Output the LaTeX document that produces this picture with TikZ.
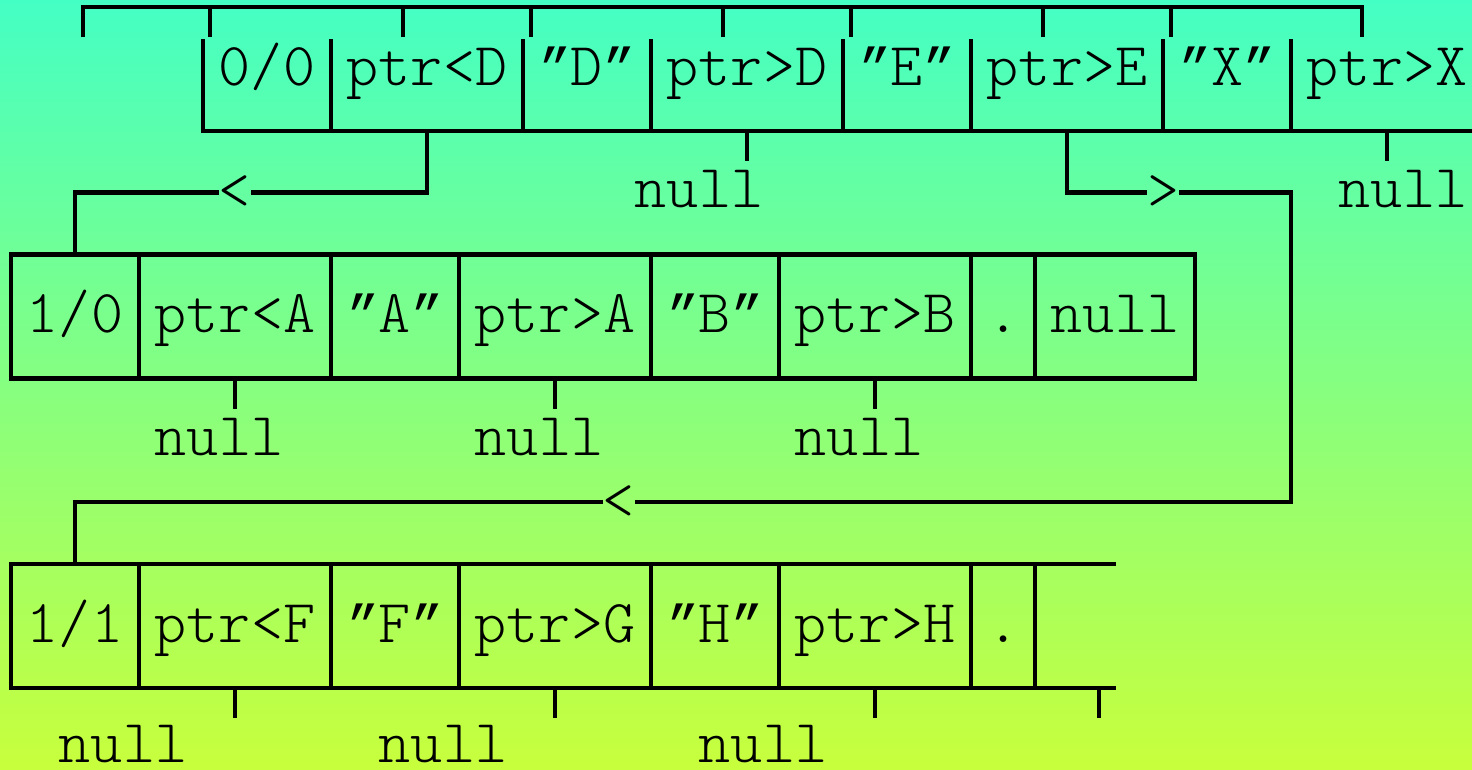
\documentclass[tikz,border=0pt]{standalone}
\usepackage{fontspec}
\usetikzlibrary{calc}
\newfontfamily\monofnt{Latin Modern Mono Light}
\newfontfamily\qfnt{Liberation Mono}
\newcommand{\myquote}{{\qfnt\fontsize{53.3}{60}\selectfont ”}}
\definecolor{bgtop}{RGB}{68,255,196}
\definecolor{bgbot}{RGB}{200,255,60}
\begin{document}
\begin{tikzpicture}[x=1pt,y=-1pt,
  wire/.style={line width=4.5pt,line join=miter},
  lbl/.style={font=\monofnt\fontsize{61}{66}\selectfont,inner sep=0pt,anchor=base},
  glyph/.style={font=\monofnt\fontsize{61}{66}\selectfont,inner sep=0pt,anchor=center}]
\shade[top color=bgtop,bottom color=bgbot] (0,0) rectangle (1472,769);
\useasboundingbox (0,0) rectangle (1472,769);

% ---------- row 1 ----------
\draw[wire] (83,37) -- (83,7) -- (1362,7) -- (1362,37);
\foreach \x in {210,403,531,723,851,1043,1171} \draw[wire] (\x,7) -- (\x,37);
\draw[wire] (203,39) -- (203,130.8) -- (1480,130.8);
\foreach \x in {331,523,651,843,971,1163,1291} \draw[wire] (\x,39) -- (\x,130.8);
\node[lbl] (r1a) at (267,85) {0/0};
\node[lbl] (r1b) at (427,85) {ptr<D};
\node[lbl] (r1c) at (587,85) {\myquote D\myquote};
\node[lbl] (r1d) at (747,85) {ptr>D};
\node[lbl] (r1e) at (907,85) {\myquote E\myquote};
\node[lbl] (r1f) at (1067,85) {ptr>E};
\node[lbl] (r1g) at (1227,85) {\myquote X\myquote};
\node[lbl] (r1h) at (1387,85) {ptr>X};
\coordinate (pD) at (427,130.8);
\coordinate (pDn) at (747,130.8);
\coordinate (pE) at (1067,130.8);
\coordinate (pXn) at (1387,130.8);
\draw[wire] (pDn) -- ++(0,30.5);
\draw[wire] (pXn) -- ++(0,30.5);
\node[lbl] (n1a) at (699,207) {null};
\node[lbl] (n1b) at (1403,207) {null};

% left branch
\node[glyph] (lt1) at (235,192.7) {<};
\coordinate (c1) at (427,192.7);
\coordinate (c2) at (75,192.7);
\coordinate (r2top) at (75,254.6);
\draw[wire] (pD) -- (c1) -- ($(lt1.center)+(16,0)$);
\draw[wire] ($(lt1.center)-(16,0)$) -- (c2) -- (r2top);

% right branch
\node[glyph] (gt1) at (1163,192.7) {>};
\node[glyph] (lt2) at (619,502.2) {<};
\coordinate (c3) at (1067,192.7);
\coordinate (c4) at (1291,192.7);
\coordinate (c5) at (1291,502.2);
\coordinate (c6) at (75,502.2);
\coordinate (r3top) at (75,564.1);
\draw[wire] (pE) -- (c3) -- ($(gt1.center)-(16,0)$);
\draw[wire] ($(gt1.center)+(16,0)$) -- (c4) -- (c5) -- ($(lt2.center)+(16,0)$);
\draw[wire] ($(lt2.center)-(16,0)$) -- (c6) -- (r3top);

% ---------- row 2 ----------
\draw[wire] (11,254.6) rectangle (1195,378.4);
\foreach \x in {139,331,459,651,779,971,1035} \draw[wire] (\x,254.6) -- (\x,378.4);
\node[lbl] (r2a) at (75,332.5) {1/0};
\node[lbl] (r2b) at (235,332.5) {ptr<A};
\node[lbl] (r2c) at (395,332.5) {\myquote A\myquote};
\node[lbl] (r2d) at (555,332.5) {ptr>A};
\node[lbl] (r2e) at (715,332.5) {\myquote B\myquote};
\node[lbl] (r2f) at (875,332.5) {ptr>B};
\node[lbl] (r2g) at (1003,332.5) {.};
\node[lbl] (r2h) at (1115,332.5) {null};
\foreach \x in {235,555,875} \draw[wire] (\x,378.4) -- (\x,409);
\node[lbl] (n2a) at (219,455) {null};
\node[lbl] (n2b) at (539,455) {null};
\node[lbl] (n2c) at (859,455) {null};

% ---------- row 3 ----------
\draw[wire] (1116,564.1) -- (11,564.1) -- (11,687.9) -- (1116,687.9);
\foreach \x in {139,331,459,651,779,971,1035} \draw[wire] (\x,564.1) -- (\x,687.9);
\node[lbl] (r3a) at (75,642.5) {1/1};
\node[lbl] (r3b) at (235,642.5) {ptr<F};
\node[lbl] (r3c) at (395,642.5) {\myquote F\myquote};
\node[lbl] (r3d) at (555,642.5) {ptr>G};
\node[lbl] (r3e) at (715,642.5) {\myquote H\myquote};
\node[lbl] (r3f) at (875,642.5) {ptr>H};
\node[lbl] (r3g) at (1003,642.5) {.};
\foreach \x in {235,555,875,1099} \draw[wire] (\x,687.9) -- (\x,718);
\node[lbl] (n3a) at (123,762) {null};
\node[lbl] (n3b) at (443,762) {null};
\node[lbl] (n3c) at (763,762) {null};
\end{tikzpicture}
\end{document}
